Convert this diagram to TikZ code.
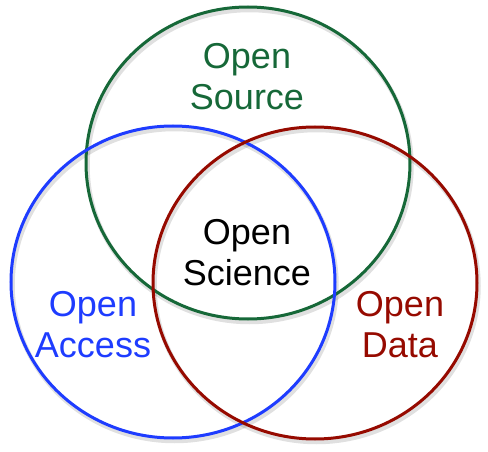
\documentclass[tikz,border=0pt]{standalone}
\usepackage{fontspec}
\setmainfont{Liberation Sans}
\definecolor{osgreen}{RGB}{22,104,56}
\definecolor{oablue}{RGB}{30,60,255}
\definecolor{odred}{RGB}{150,10,0}
\tikzset{
  ring/.style={line width=3pt},
  ringshadow/.style={line width=4.5pt, draw=black, opacity=0.12},
  label/.style={font=\fontsize{36}{41}\selectfont, align=center, inner sep=0pt, anchor=center}
}
\begin{document}
\begin{tikzpicture}[x=1pt,y=-1pt]
\useasboundingbox (0,0) rectangle (488,452);
% shadows
\draw[ringshadow] (249.5,166) ellipse [x radius=162, y radius=156];
\draw[ringshadow] (174.5,285) ellipse [x radius=162, y radius=156];
\draw[ringshadow] (316.5,286) ellipse [x radius=162, y radius=156];
% circles
\draw[ring, osgreen] (248,163) ellipse [x radius=162, y radius=156];
\draw[ring, oablue] (173,282) ellipse [x radius=162, y radius=156];
\draw[ring, odred] (315,283) ellipse [x radius=162, y radius=156];
% labels
\node[label, text=osgreen] (src) at (247,77) {Open\\Source};
\node[label, text=black] (sci) at (247,252.5) {Open\\Science};
\node[label, text=oablue] (acc) at (93,325) {Open\\Access};
\node[label, text=odred] (dat) at (400,325) {Open\\Data};
\end{tikzpicture}
\end{document}
